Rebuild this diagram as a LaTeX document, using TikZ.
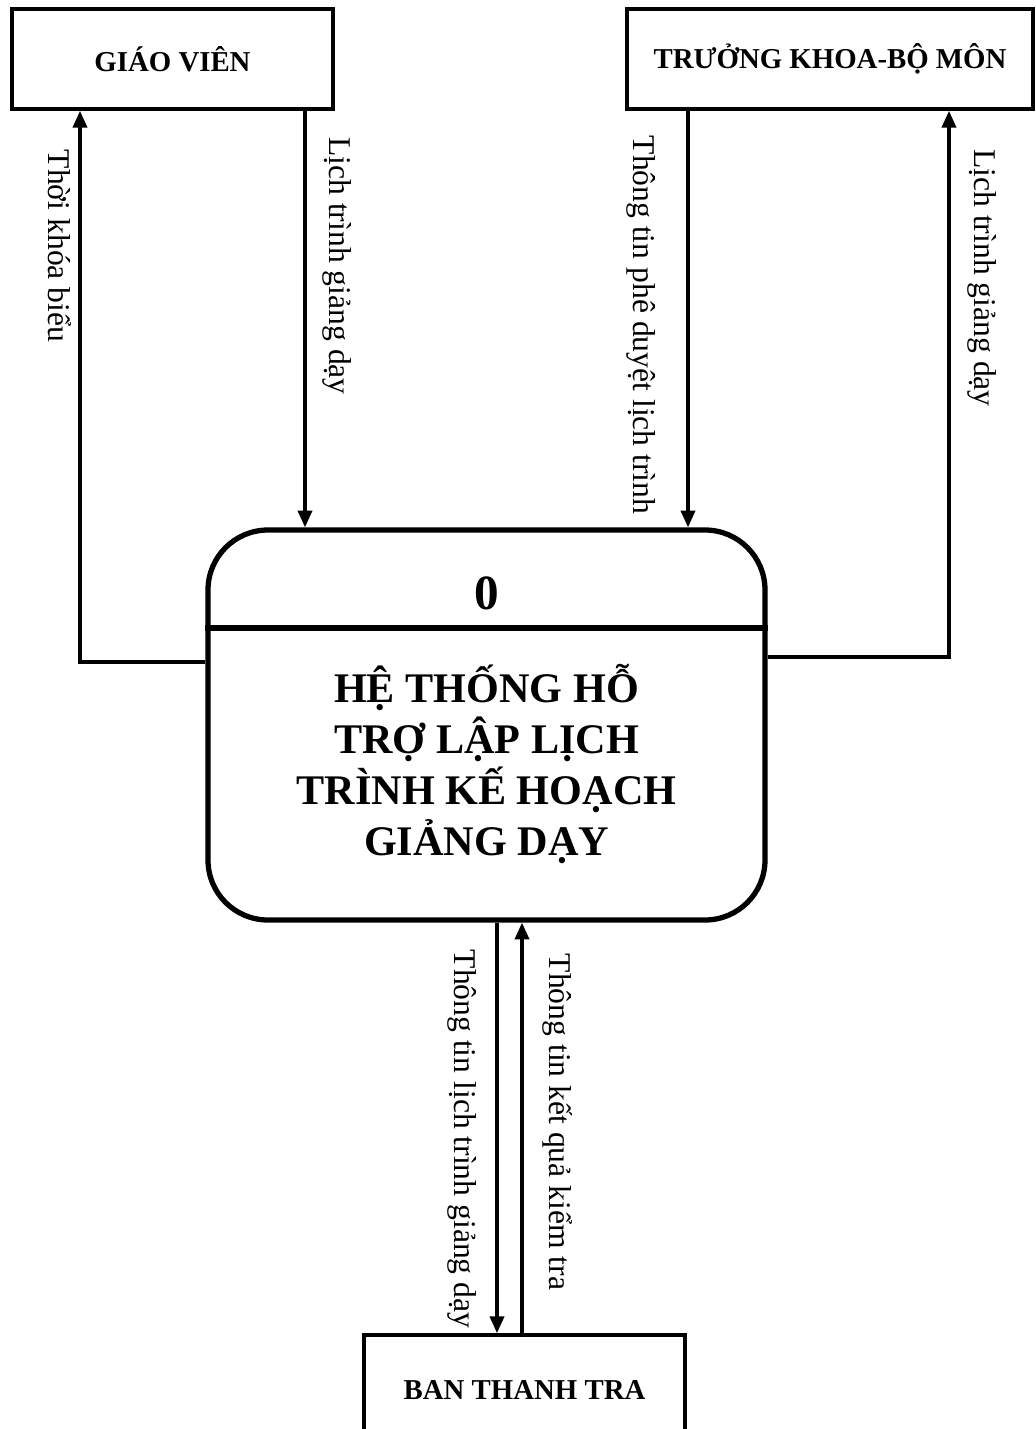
\documentclass[tikz,border=0pt]{standalone}
\usepackage{fontspec}
\setmainfont{Liberation Serif}
\usetikzlibrary{arrows.meta, calc}

\begin{document}
\begin{tikzpicture}[x=0.2mm, y=-0.2mm,
  >={Triangle[length=9.5pt, width=8pt]},
  entity/.style={draw, line width=2.1pt, minimum width=64.2mm, minimum height=20mm,
    inner sep=0pt, font=\fontsize{16.4}{20}\selectfont\bfseries},
  flow/.style={line width=1.9pt, ->},
  flowlabel/.style={rotate=-90, inner sep=0pt, font=\fontsize{18}{22}\selectfont}]

% Page frame
\useasboundingbox (0,0) rectangle (1036,1429);

% External entities
\node[entity] (gv) at (172.5,59) {GIÁO VIÊN};
\node[entity, minimum width=81.2mm] (tk) at (830,59) {TRƯỞNG KHOA-BỘ MÔN};
\node[entity, minimum height=22mm] (btt) at (524.5,1390) {BAN THANH TRA};

% ============================================================
% Process 0
% ============================================================
\node[draw, line width=3pt, rounded corners=12mm,
  minimum width=111.4mm, minimum height=78mm] (proc) at (486.5,725) {};
\node[font=\fontsize{28}{30}\selectfont\bfseries] (procid) at (486.5,593) {0};
\draw[line width=3pt] (proc.west |- 0,628) -- (proc.east |- 0,628);
\node[font=\fontsize{24}{29}\selectfont\bfseries, align=center] (proctitle) at (486.5,764)
  {HỆ THỐNG HỖ\\TRỢ LẬP LỊCH\\TRÌNH KẾ HOẠCH\\GIẢNG DẠY};

% ============================================================
% Data flows
% ============================================================
% Giáo viên
\draw[flow] (proc.west |- 0,662) -| (gv.south -| 80,0);
\node[flowlabel] (lbltkb) at (60,246) {Thời khóa biểu};
\draw[flow] (gv.south -| 305,0) -- (proc.north -| 305,0);
\node[flowlabel] (lblgv) at (337,266) {Lịch trình giảng dạy};

% Trưởng khoa - bộ môn
\draw[flow] (tk.south -| 688,0) -- (proc.north -| 688,0);
\node[flowlabel] (lblduyet) at (641,325) {Thông tin phê duyệt lịch trình};
\draw[flow] (proc.east |- 0,657) -| (tk.south -| 949,0);
\node[flowlabel] (lbltk) at (982,278) {Lịch trình giảng dạy};

% Ban thanh tra
\draw[flow] (proc.south -| 497,0) -- (btt.north -| 497,0);
\node[flowlabel] (lblbtt) at (462,1139) {Thông tin lịch trình giảng dạy};
\draw[flow] (btt.north -| 522,0) -- (proc.south -| 522,0);
\node[flowlabel] (lblkq) at (558,1122) {Thông tin kết quả kiểm tra};

\end{tikzpicture}
\end{document}
